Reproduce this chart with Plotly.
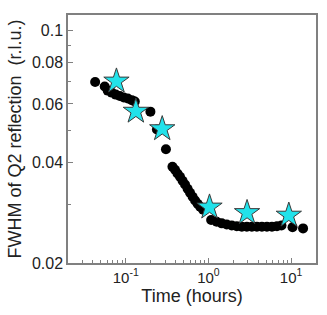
import plotly.graph_objects as go

# Black circles: time (hours) and FWHM (r.l.u.)
circle_time = [0.0426, 0.0556, 0.0604, 0.0676, 0.0756, 0.0846, 0.0946, 0.1057, 0.1183, 0.1286,
               0.1985, 0.238, 0.306, 0.367, 0.394, 0.422, 0.453, 0.486, 0.521, 0.559,
               0.599, 0.643, 0.689, 0.739, 0.793, 0.862, 1.078, 1.258, 1.447, 1.664,
               1.914, 2.201, 2.532, 2.912, 3.349, 3.852, 4.43, 5.096, 5.861, 6.741,
               7.643, 10.4, 13.95]
circle_fwhm = [0.0698, 0.0677, 0.0658, 0.0649, 0.0640, 0.0634, 0.0627, 0.0623, 0.0616, 0.0610,
               0.0569, 0.0503, 0.0439, 0.0389, 0.0381, 0.0371, 0.0363, 0.0353, 0.0344, 0.0334,
               0.0325, 0.0316, 0.0308, 0.0301, 0.0295, 0.0289, 0.0269, 0.0266, 0.0263, 0.0261,
               0.0259, 0.0258, 0.0257, 0.0257, 0.0257, 0.0257, 0.0257, 0.0257, 0.0257, 0.0258,
               0.0259, 0.0256, 0.0254]

# Cyan stars
star_time = [0.0771, 0.1324, 0.276, 1.03, 2.93, 9.38]
star_fwhm = [0.0702, 0.0570, 0.0505, 0.0294, 0.0283, 0.0278]

# Tick labels
x_tickvals = [0.1, 1, 10]
x_ticktext = ["10<sup>-1</sup>", "10<sup>0</sup>", "10<sup>1</sup>"]
x_minor = [0.02, 0.03, 0.04, 0.05, 0.06, 0.07, 0.08, 0.09,
           0.2, 0.3, 0.4, 0.5, 0.6, 0.7, 0.8, 0.9,
           2, 3, 4, 5, 6, 7, 8, 9, 20]
y_tickvals = [0.02, 0.04, 0.06, 0.08, 0.1]
y_ticktext = ["0.02", "0.04", "0.06", "0.08", "0.1"]
y_minor = [0.03, 0.05, 0.07, 0.09]

font = "Liberation Sans, Arial, sans-serif"
axis_color = "#808080"

fig = go.Figure()
fig.add_trace(go.Scatter(
    x=circle_time, y=circle_fwhm, mode="markers",
    marker=dict(symbol="circle", size=10, color="black", line=dict(width=0)),
    showlegend=False))
fig.add_trace(go.Scatter(
    x=star_time, y=star_fwhm, mode="markers",
    marker=dict(symbol="star", size=19, color="#22E2EA",
                line=dict(color="#3a3a3a", width=1)),
    showlegend=False))

fig.update_xaxes(
    type="log", range=[-1.699, 1.301], automargin=False,
    tickvals=x_tickvals, ticktext=x_ticktext,
    ticks="inside", ticklen=5, tickcolor=axis_color, tickwidth=1,
    minor=dict(tickvals=x_minor, ticks="inside", ticklen=3, tickcolor=axis_color, tickwidth=1),
    showline=True, linecolor=axis_color, linewidth=1.5, mirror=True,
    showgrid=False, zeroline=False,
    tickfont=dict(family=font, size=15, color="#222"),
    title=dict(text="Time (hours)", font=dict(family=font, size=18, color="#222"), standoff=4),
)
fig.update_yaxes(
    type="log", range=[-1.699, -0.955], automargin=False,
    tickvals=y_tickvals, ticktext=y_ticktext,
    ticks="inside", ticklen=5, tickcolor=axis_color, tickwidth=1,
    minor=dict(tickvals=y_minor, ticks="inside", ticklen=3, tickcolor=axis_color, tickwidth=1),
    showline=True, linecolor=axis_color, linewidth=1.5, mirror=True,
    showgrid=False, zeroline=False,
    tickfont=dict(family=font, size=16, color="#222"),
    title=dict(text="FWHM of Q2 reflection  (r.l.u.)", font=dict(family=font, size=18, color="#222"), standoff=6),
)
fig.update_layout(
    width=327, height=315,
    margin=dict(l=68, r=11, t=15, b=52),
    paper_bgcolor="white", plot_bgcolor="white",
)
fig.write_html("out.html", config={"displayModeBar": False},
               post_script="document.body.style.margin='0';")
